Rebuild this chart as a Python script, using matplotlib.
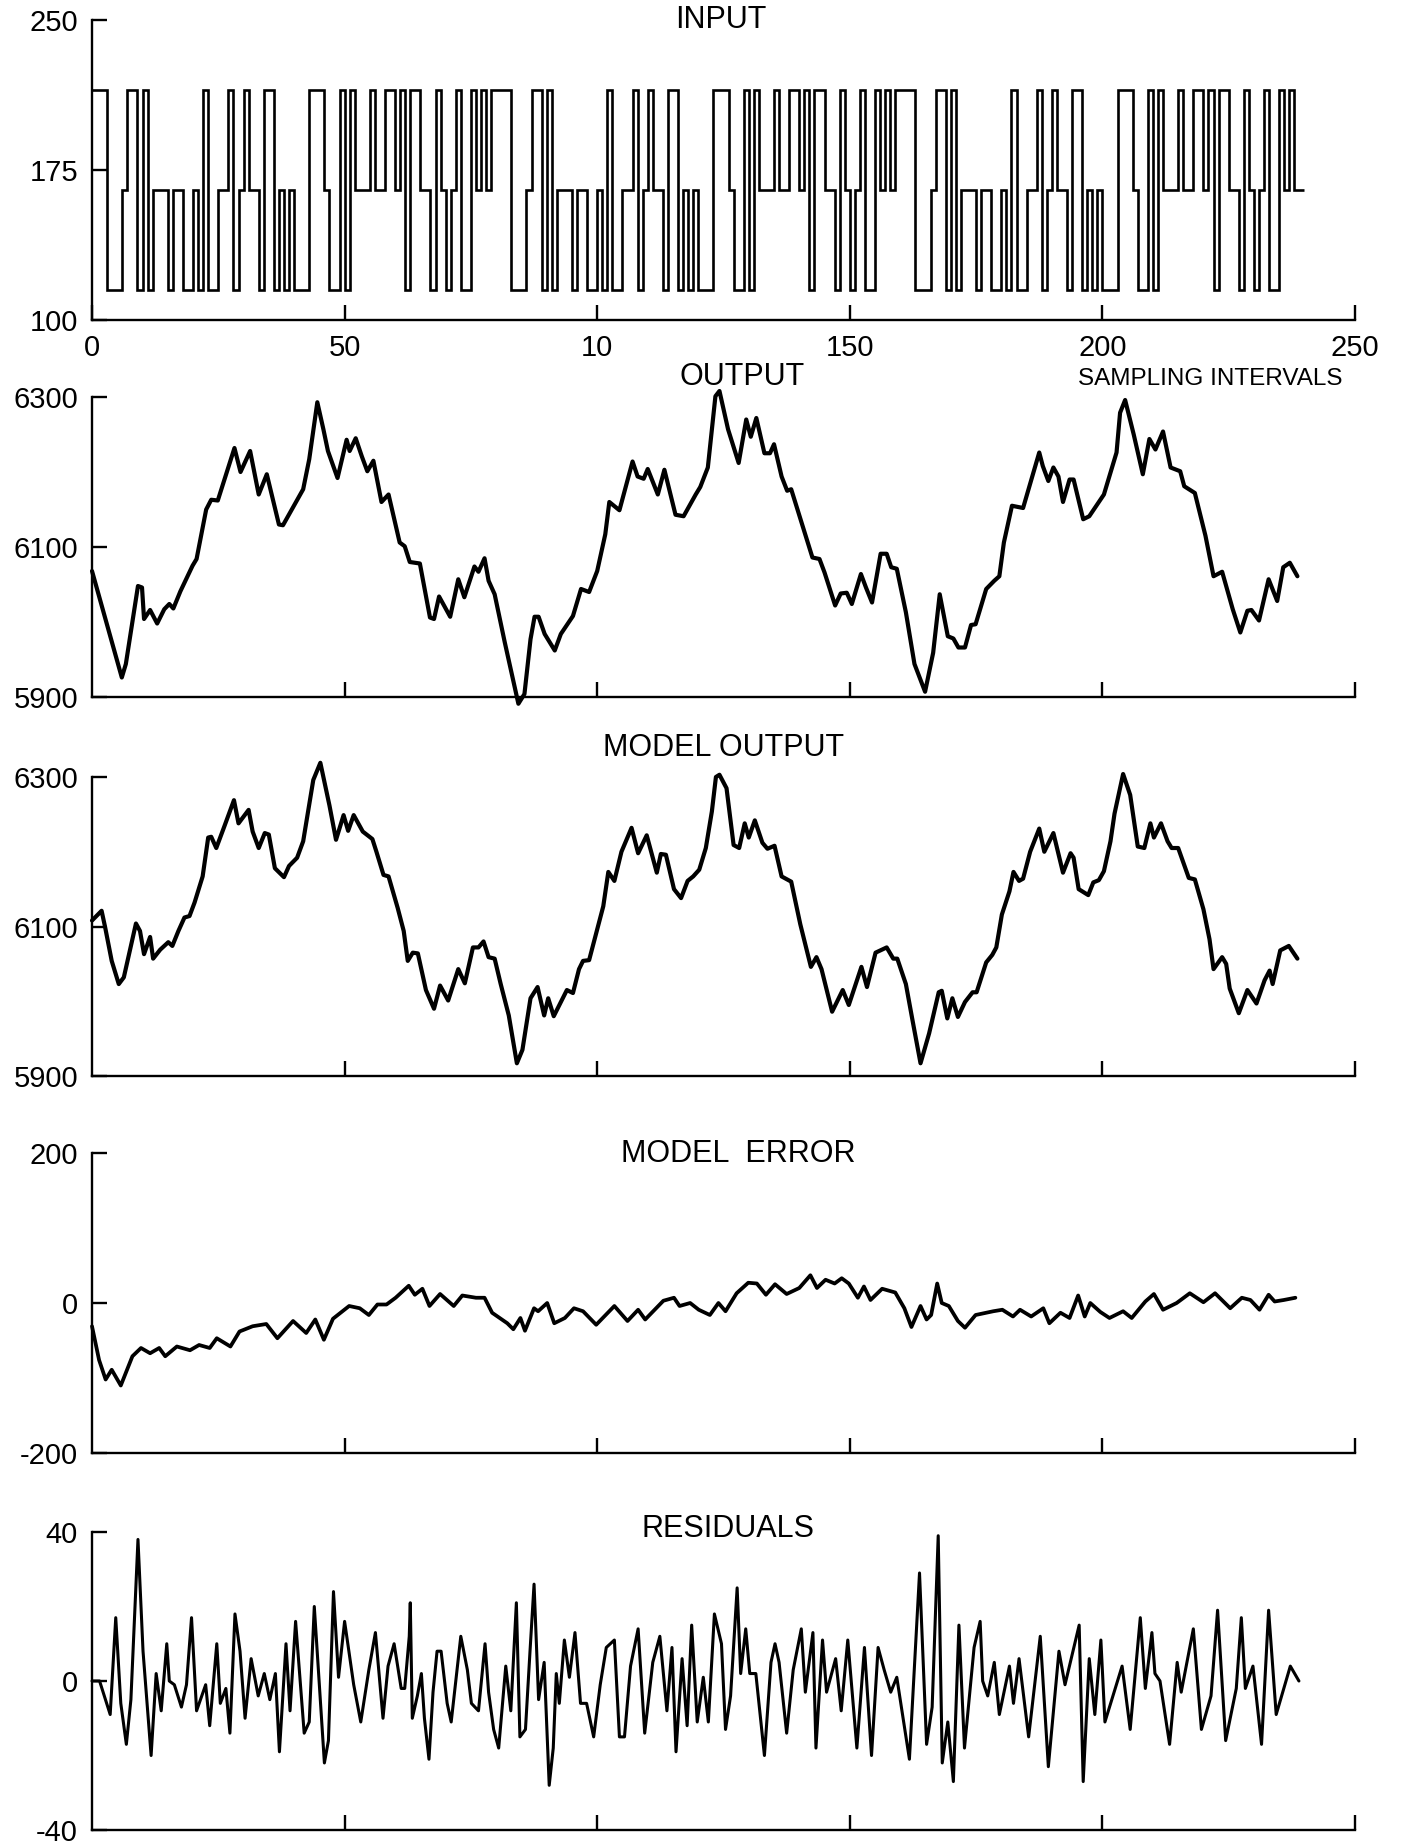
import numpy as np
import matplotlib
matplotlib.use("Agg")
import matplotlib.pyplot as plt

plt.rcParams["font.family"] = ["Liberation Sans", "DejaVu Sans"]

# three-level test input, one letter per sampling interval
INPUT_CODES = (
    "HHHLLLMHHLHLMMMLMMLLMLHLLMMHLMHMMLHHLMLMLLLHHHMLLHLHMMMHMMHHMHLHHMMLHMLMHLLHMHMH"
    "HHHLLLMHHLHLMMMLMMLLMLHLLMMHLMHMMLHHLMLMLLLHHHMLLHLHMMMHMMHHMHLHHMMLHMLMHLLHMHMH"
    "HHHLLLMHHLHLMMMLMMLLMLHLLMMHLMHMMLHHLMLMLLLHHHMLLHLHMMMHMMHHMHLHHMMLHMLMHLLHMHMM"
)
INPUT_LEVELS = {"L": 115, "M": 165, "H": 215}

# (sampling interval, value)
OUTPUT_PTS = [
    (0, 6068), (5.9, 5926), (6.7, 5944), (9.1, 6048), (9.9, 6046), (10.3, 6004),
    (11.5, 6016), (12.9, 5998), (14.3, 6017), (15.3, 6024), (16.1, 6018), (17.5, 6041),
    (19.9, 6075), (20.7, 6084), (22.6, 6150), (23.6, 6163), (24.9, 6162), (28.2, 6232),
    (29.4, 6200), (31.3, 6228), (33, 6170), (34.6, 6197), (37, 6130), (37.8, 6129),
    (41.8, 6177), (43, 6217), (44.6, 6293), (45.8, 6257), (46.7, 6228), (48.6, 6192),
    (50.4, 6243), (51, 6228), (52.2, 6245), (53.4, 6221), (54.5, 6201), (55.7, 6215),
    (57.3, 6160), (58.7, 6170), (60.9, 6106), (61.9, 6101), (62.9, 6080), (64.9, 6078),
    (66.9, 6006), (67.7, 6004), (68.7, 6034), (70.9, 6007), (72.5, 6057), (73.7, 6033),
    (75.7, 6074), (76.5, 6067), (77.7, 6085), (78.5, 6055), (79.7, 6037), (81.7, 5973),
    (83.3, 5924), (84.4, 5891), (85.6, 5904), (86.8, 5977), (87.6, 6007), (88.4, 6007),
    (89.6, 5984), (91.6, 5962), (92.8, 5984), (95.2, 6008), (96.8, 6044), (98.4, 6040),
    (100, 6068), (101.6, 6117), (102.4, 6160), (104.4, 6149), (107, 6214), (108, 6194),
    (109.2, 6191), (110, 6204), (112, 6170), (113.3, 6203), (115.5, 6143), (117.1, 6141),
    (119.5, 6170), (120.4, 6180), (121.9, 6206), (123.4, 6301), (124.2, 6308), (125.9, 6257),
    (128, 6212), (129.5, 6270), (130.4, 6247), (131.5, 6272), (133.1, 6225), (134.2, 6225),
    (135, 6237), (136.5, 6194), (137.6, 6175), (138.4, 6177), (142.6, 6086), (144, 6084),
    (145, 6066), (147.1, 6022), (148.2, 6038), (149.4, 6039), (150.4, 6024), (152.2, 6064),
    (153.2, 6046), (154.4, 6026), (156.1, 6091), (157.3, 6091), (158.2, 6073), (159.3, 6071),
    (161.1, 6013), (162.8, 5944), (164.9, 5907), (166.5, 5959), (167.8, 6037), (169.4, 5981),
    (170.5, 5978), (171.5, 5966), (172.8, 5966), (174, 5996), (174.9, 5997), (177, 6044),
    (178.6, 6055), (179.6, 6061), (180.5, 6106), (182.1, 6155), (184.3, 6152), (187.5, 6226),
    (188.2, 6208), (189.3, 6188), (190.3, 6206), (191.3, 6194), (192.2, 6160), (193.5, 6190),
    (194.3, 6190), (196.2, 6137), (197.4, 6141), (200.3, 6170), (201.6, 6199), (202.8, 6226),
    (203.5, 6279), (204.5, 6296), (206.2, 6250), (208, 6197), (209.3, 6244), (210.5, 6230),
    (212, 6254), (213.5, 6206), (215.4, 6201), (216.2, 6181), (218.3, 6172), (220.4, 6115),
    (222, 6061), (223.7, 6067), (225.8, 6017), (227.3, 5986), (228.7, 6015), (229.5, 6016),
    (231, 6002), (232.9, 6057), (234.6, 6028), (235.8, 6073), (237.1, 6079), (238.6, 6061),
]

MODEL_PTS = [
    (0, 6108), (1.9, 6121), (2.6, 6099), (3.9, 6054), (5.3, 6023), (6.3, 6032),
    (7.5, 6068), (8.7, 6104), (9.5, 6094), (10.3, 6063), (11.5, 6086), (12.1, 6057),
    (13.5, 6069), (15.1, 6079), (15.9, 6074), (17.1, 6094), (18.3, 6112), (19.3, 6114),
    (20.3, 6132), (21.9, 6167), (23, 6219), (23.6, 6220), (24.6, 6205), (26.2, 6234),
    (28.1, 6269), (29, 6238), (31, 6256), (31.8, 6227), (33, 6205), (34.2, 6225),
    (35, 6223), (36.2, 6178), (38, 6166), (39, 6181), (40.6, 6192), (41.8, 6214),
    (43.8, 6296), (45.2, 6319), (47, 6262), (48.3, 6216), (49.8, 6249), (50.7, 6228),
    (51.8, 6249), (53.6, 6227), (55.5, 6217), (56.3, 6200), (57.7, 6169), (58.7, 6167),
    (60.5, 6125), (61.7, 6094), (62.5, 6054), (63.5, 6065), (64.5, 6064), (66.1, 6015),
    (67.7, 5990), (68.9, 6021), (70.5, 6001), (72.5, 6043), (73.8, 6024), (75.4, 6072),
    (76.5, 6072), (77.5, 6080), (78.5, 6059), (79.7, 6057), (80.9, 6023), (82.5, 5981),
    (84.1, 5917), (85.2, 5935), (86.8, 6004), (88.2, 6019), (89.5, 5981), (90.3, 6004),
    (91.4, 5980), (92.8, 5999), (94, 6015), (95.2, 6011), (96.4, 6043), (97.2, 6054),
    (98.4, 6055), (100, 6096), (101.2, 6127), (102.2, 6173), (103.4, 6161), (104.8, 6200),
    (106.8, 6232), (108.1, 6198), (109.8, 6222), (111.8, 6172), (112.6, 6197), (113.6, 6196),
    (115.2, 6150), (116.6, 6138), (117.9, 6161), (119, 6167), (120.2, 6176), (121.5, 6205),
    (122.7, 6254), (123.5, 6300), (124.2, 6303), (125.6, 6285), (127, 6209), (128.1, 6205),
    (129.2, 6238), (130, 6219), (131.2, 6242), (132.7, 6212), (133.7, 6204), (135.1, 6208),
    (136.5, 6167), (138.4, 6160), (140.2, 6103), (142.3, 6046), (143.4, 6059), (144.4, 6043),
    (146.5, 5986), (148.6, 6015), (149.8, 5995), (152.3, 6046), (153.4, 6019), (155.1, 6065),
    (157.3, 6072), (158.6, 6057), (159.4, 6057), (161.1, 6023), (162.4, 5975), (164, 5917),
    (165.7, 5957), (167.6, 6012), (168.2, 6014), (169.3, 5977), (170.3, 6004), (171.4, 5979),
    (172.8, 5999), (174.3, 6012), (175.1, 6012), (177, 6052), (178.2, 6062), (179, 6072),
    (180.1, 6116), (181.6, 6147), (182.4, 6173), (183.5, 6161), (184.3, 6164), (185.7, 6200),
    (187.5, 6231), (188.5, 6200), (190.3, 6225), (192.2, 6172), (193.7, 6198), (194.3, 6192),
    (195.3, 6150), (197.2, 6142), (198.2, 6159), (199.3, 6162), (200.3, 6174), (201.6, 6214),
    (202.4, 6251), (204.1, 6304), (205.5, 6276), (207, 6207), (208.3, 6205), (209.5, 6238),
    (210.2, 6219), (211.6, 6238), (212.9, 6214), (213.7, 6205), (215, 6205), (217.1, 6165),
    (218.3, 6163), (220, 6123), (221.2, 6083), (222, 6043), (223.7, 6059), (224.5, 6050),
    (225.2, 6017), (227, 5984), (228.7, 6015), (230.5, 5997), (232.1, 6028), (233.1, 6041),
    (233.7, 6023), (235.2, 6068), (236.9, 6074), (238.6, 6057),
]

ERROR_PTS = [
    (0, -31), (1.4, -76), (2.7, -102), (3.9, -89), (5.7, -110), (8, -71), (9.7, -60),
    (11.5, -67), (13.3, -60), (14.5, -71), (16.8, -58), (19.4, -63), (21.2, -56),
    (23.3, -60), (24.7, -47), (27.4, -58), (29.2, -38), (31.8, -31), (34.5, -28),
    (36.7, -47), (39.8, -24), (42.4, -40), (44.2, -22), (45.9, -49), (47.7, -21),
    (50.9, -4), (53, -7), (54.8, -16), (56.5, -2), (58.3, -2), (60.1, 7), (62.7, 23),
    (63.9, 11), (65.4, 19), (66.8, -4), (68.9, 12), (71.6, -4), (73.3, 10), (76, 7),
    (77.7, 7), (79.2, -13), (82.2, -27), (83.4, -35), (84.8, -20), (85.7, -37),
    (87.5, -7), (88.3, -11), (90.1, 0), (91.5, -27), (93.6, -20), (95.4, -7), (97.2, -11),
    (99.8, -29), (103.4, -4), (106, -24), (108.1, -9), (109.5, -22), (113.1, 3),
    (115.2, 7), (116.3, -4), (118.4, 0), (120.1, -9), (122.3, -16), (124, 0), (125.4, -11),
    (127.6, 13), (129.9, 27), (131.6, 26), (133.4, 11), (135.2, 25), (137.5, 12),
    (140, 20), (142.2, 37), (143.5, 20), (145.2, 31), (147, 26), (148.4, 33), (149.8, 26),
    (151.6, 7), (152.8, 22), (154.1, 4), (156.4, 19), (159, 14), (160.8, -7), (162.2, -32),
    (164, -4), (165.2, -22), (166.1, -16), (167.3, 26), (168.2, 0), (169.6, -4),
    (171.4, -24), (172.8, -33), (174.9, -16), (178.4, -11), (180.2, -9), (182.3, -18),
    (183.7, -9), (185.9, -18), (188.3, -7), (189.5, -27), (191.7, -13), (193.5, -20),
    (195.2, 10), (196.5, -18), (197.6, 0), (199.6, -12), (201.4, -20), (204.1, -11),
    (205.8, -20), (208.5, 2), (210.2, 12), (212, -9), (214.7, 0), (217.3, 13), (220, 1),
    (222.3, 13), (225.3, -7), (227.6, 7), (229.3, 4), (231.1, -9), (232.9, 11),
    (234.1, 2), (235.9, 4), (238.2, 7),
]

RESID_PTS = [
    (0, 0), (1.5, 0), (3.6, -9), (4.7, 17), (5.7, -6), (6.8, -17), (7.7, -5), (9.1, 38),
    (10.1, 8), (11.7, -20), (12.7, 2), (13.7, -8), (14.8, 10), (15.3, 0), (16.3, -1),
    (17.7, -7), (18.7, -1), (19.7, 17), (20.7, -8), (22.5, -1), (23.3, -12), (24.7, 10),
    (25.4, -6), (26.5, -2), (27.3, -14), (28.3, 18), (29.3, 8), (30.3, -10), (31.5, 6),
    (32.9, -4), (34.1, 2), (35.2, -5), (36.3, 2), (37.1, -19), (38.4, 10), (39.2, -8),
    (40.3, 16), (42, -14), (43, -11), (44, 20), (45.2, -5), (46, -22), (46.8, -16),
    (47.8, 24), (48.8, 1), (50, 16), (51.8, -1), (53.2, -11), (54.8, 3), (56.1, 13),
    (57.6, -10), (58.6, 4), (59.8, 10), (61.2, -2), (61.9, -2), (62.8, 12), (63, 21),
    (63.4, -10), (64.4, -4), (65.2, 2), (65.8, -10), (66.7, -21), (67.5, -3), (68.3, 8),
    (69.1, 8), (70.3, -6), (71.1, -11), (73, 12), (74.3, 3), (75.1, -6), (76.5, -8),
    (77.8, 10), (78.5, -3), (79.5, -13), (80.5, -18), (81.9, 4), (82.9, -8), (84, 21),
    (84.7, -15), (85.8, -13), (86.7, 8), (87.5, 26), (88.4, -5), (89.5, 5), (90.5, -28),
    (91.3, -18), (91.9, 2), (92.5, -6), (93.5, 11), (94.5, 1), (95.6, 13), (96.7, -6),
    (97.9, -6), (99.3, -15), (100.6, -1), (101.8, 9), (103.4, 11), (104.4, -15),
    (105.4, -15), (106.6, 4), (108.1, 14), (109.4, -14), (111, 5), (112.4, 12),
    (113.8, -8), (114.8, 9), (115.6, -19), (116.8, 6), (117.8, -12), (118.7, 15),
    (119.8, -11), (121, 1), (122, -11), (123.2, 18), (124.6, 10), (125.4, -13),
    (126.4, -4), (127.7, 25), (128.4, 2), (129.4, 14), (130.2, 2), (131.4, 2),
    (133.1, -20), (134.4, 5), (135.2, 10), (136, 5), (137.5, -14), (138.8, 3),
    (140.4, 14), (141.2, -3), (142.7, 13), (143.3, -18), (144.6, 11), (145.4, -3),
    (147.2, 6), (148.3, -8), (149.6, 11), (151.4, -18), (152.9, 9), (154.3, -20),
    (155.6, 9), (156.8, 3), (158.1, -3), (159.3, 1), (161.8, -21), (163.8, 29),
    (165.2, -17), (166.3, -7), (167.5, 39), (168.3, -22), (169.4, -11), (170.5, -27),
    (171.6, 15), (172.7, -18), (174.6, 9), (175.8, 16), (176.3, 0), (177.3, -4),
    (178.6, 5), (179.6, -9), (181.6, 4), (182.4, -6), (183.5, 6), (185.4, -15),
    (187.7, 12), (189.3, -23), (191.4, 8), (192.6, -1), (195.4, 15), (196.2, -27),
    (197.4, 6), (198.5, -9), (199.7, 11), (200.5, -11), (203.9, 4), (205.5, -13),
    (207.5, 17), (208.5, -2), (209.8, 13), (210.4, 2), (211.4, 0), (213.3, -17),
    (214.8, 5), (215.6, -3), (218, 14), (219.6, -13), (221.5, -4), (222.8, 19),
    (224.4, -16), (226.5, -2), (227.5, 17), (228.3, -2), (229.8, 4), (231.5, -17),
    (232.9, 19), (234.4, -9), (237.2, 4), (238.9, 0),
]

X_TICKS = [0, 50, 100, 150, 200, 250]
X_TICK_LABELS = ["0", "50", "10", "150", "200", "250"]

W, H = 1404, 1847
fig = plt.figure(figsize=(W / 100, H / 100), dpi=100)


def panel(top_px, bottom_px, ylim, yticks):
    ax = fig.add_axes([92 / W, 1 - bottom_px / H, 1263 / W, (bottom_px - top_px) / H])
    ax.set_xlim(0, 250)
    ax.set_ylim(*ylim)
    for side in ("top", "right"):
        ax.spines[side].set_visible(False)
    for side in ("left", "bottom"):
        ax.spines[side].set_linewidth(1.7)
    ax.set_xticks(X_TICKS[1:])
    ax.set_xticklabels([])
    ax.set_yticks(yticks)
    ax.set_yticklabels([str(t) for t in yticks])
    ax.tick_params(direction="in", length=11, width=1.7, labelsize=21, pad=10)
    ax.patch.set_alpha(0)
    return ax


def label(x_px, y_px, text, size=22, ha="center"):
    fig.text(x_px / W, 1 - y_px / H, text, ha=ha, va="center", fontsize=size)


line_kw = dict(color="black", clip_on=False, solid_joinstyle="round", solid_capstyle="round")

# input
ax = panel(20, 320, (100, 250), [100, 175, 250])
levels = [INPUT_LEVELS[c] for c in INPUT_CODES]
ax.stairs(levels, np.arange(len(levels) + 1), baseline=None, color="black", lw=1.9)
ax.set_xticks(X_TICKS)
ax.set_xticklabels(X_TICK_LABELS)
label(721, 20, "INPUT")
label(1210, 379, "SAMPLING INTERVALS", size=17.5)

# measured and modelled output
for top, bottom, pts, title, tx, ty in [
    (397, 697, OUTPUT_PTS, "OUTPUT", 742, 377),
    (777, 1076, MODEL_PTS, "MODEL OUTPUT", 724, 748),
]:
    ax = panel(top, bottom, (5900, 6300), [5900, 6100, 6300])
    t, v = zip(*pts)
    ax.plot(t, v, lw=3.0, **line_kw)
    label(tx, ty, title)

# model error
ax = panel(1153, 1453, (-200, 200), [-200, 0, 200])
t, v = zip(*ERROR_PTS)
ax.plot(t, v, lw=2.7, **line_kw)
label(738, 1154, "MODEL  ERROR")

# residuals
ax = panel(1532, 1830, (-40, 40), [-40, 0, 40])
t, v = zip(*RESID_PTS)
ax.plot(t, v, lw=2.2, **line_kw)
label(728, 1529, "RESIDUALS")

fig.savefig("out.png", dpi=100, facecolor="white")
